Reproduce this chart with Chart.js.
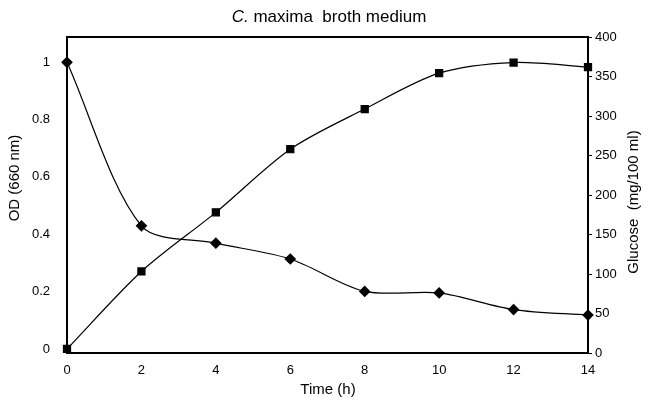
<!DOCTYPE html>
<html>
<head>
<meta charset="utf-8">
<script src="https://cdn.jsdelivr.net/npm/chart.js@4.4.1/dist/chart.umd.min.js"></script>
<style>
  html, body { margin: 0; padding: 0; background: #fff; }
</style>
</head>
<body>
<canvas id="myChart" width="651" height="401"></canvas>
<script>
const times = [0, 2, 4, 6, 8, 10, 12, 14];
const od = [0.0, 0.27, 0.476, 0.696, 0.836, 0.961, 0.998, 0.982];
const glucose = [368, 161, 139, 119, 78, 76, 55, 48];

const timeTicks = [0, 2, 4, 6, 8, 10, 12, 14];
const odTicks = [0, 0.2, 0.4, 0.6, 0.8, 1];
const glucoseTicks = [0, 50, 100, 150, 200, 250, 300, 350, 400];

const FONT = "'Liberation Sans', Arial, sans-serif";

// box, title (italic genus) and axis titles
const decor = {
  id: 'decor',
  afterDraw(chart) {
    const ctx = chart.ctx;
    const a = chart.chartArea;
    ctx.save();
    ctx.strokeStyle = '#000';
    ctx.lineWidth = 2;
    ctx.strokeRect(a.left, a.top, a.right - a.left, a.bottom - a.top);

    ctx.fillStyle = '#000';
    ctx.textBaseline = 'middle';

    // title
    const part1 = 'C.';
    const part2 = ' maxima  broth medium';
    ctx.font = 'italic 17px ' + FONT;
    const w1 = ctx.measureText(part1).width;
    ctx.font = '17px ' + FONT;
    const w2 = ctx.measureText(part2).width;
    let x = 329 - (w1 + w2) / 2;
    ctx.textAlign = 'left';
    ctx.font = 'italic 17px ' + FONT;
    ctx.fillText(part1, x, 17);
    ctx.font = '17px ' + FONT;
    ctx.fillText(part2, x + w1, 17);

    // axis titles
    ctx.font = '15px ' + FONT;
    ctx.textAlign = 'center';
    ctx.fillText('Time (h)', 328, 390);

    ctx.save();
    ctx.translate(15, 178);
    ctx.rotate(-Math.PI / 2);
    ctx.fillText('OD (660 nm)', 0, 0);
    ctx.restore();

    ctx.save();
    ctx.translate(634, 202);
    ctx.rotate(-Math.PI / 2);
    ctx.fillText('Glucose  (mg/100 ml)', 0, 0);
    ctx.restore();

    ctx.restore();
  }
};

const data = {
  datasets: [{
    label: 'OD',
    data: times.map((t, i) => ({ x: t, y: od[i] })),
    yAxisID: 'yOD',
    borderColor: '#000',
    backgroundColor: '#000',
    borderWidth: 1.2,
    pointStyle: 'rect',
    pointRadius: 5,
    tension: 0.3,
    clip: false,
  }, {
    label: 'Glucose',
    data: times.map((t, i) => ({ x: t, y: glucose[i] })),
    yAxisID: 'yGlu',
    borderColor: '#000',
    backgroundColor: '#000',
    borderWidth: 1.2,
    pointStyle: 'rectRot',
    pointRadius: 5,
    tension: 0.3,
    clip: false,
  }]
};

const config = {
  type: 'line',
  data: data,
  options: {
    responsive: false,
    animation: false,
    layout: { padding: { top: 37, left: 0, right: 0, bottom: 0 } },
    plugins: {
      legend: { display: false },
      title: { display: false },
      tooltip: { enabled: false },
    },
    scales: {
      x: {
        type: 'linear',
        min: 0,
        max: 14,
        afterBuildTicks: (s) => { s.ticks = timeTicks.map(v => ({ value: v })); },
        afterFit: (s) => { s.height = 48; },
        grid: { display: false },
        border: { display: false },
        ticks: { color: '#000', padding: 2, maxRotation: 0, font: { family: FONT, size: 13 } },
      },
      yOD: {
        position: 'left',
        min: -0.014,
        max: 1.087,
        afterBuildTicks: (s) => { s.ticks = odTicks.map(v => ({ value: v })); },
        afterFit: (s) => { s.width = 67; },
        grid: { display: false },
        border: { display: false },
        ticks: { color: '#000', padding: 9, font: { family: FONT, size: 13 }, callback: (v) => String(v) },
      },
      yGlu: {
        position: 'right',
        min: 0,
        max: 400,
        afterBuildTicks: (s) => { s.ticks = glucoseTicks.map(v => ({ value: v })); },
        afterFit: (s) => { s.width = 63; },
        grid: { display: true, drawOnChartArea: false, drawTicks: true, tickLength: 4, color: '#000' },
        border: { display: false },
        ticks: { color: '#000', padding: 3, font: { family: FONT, size: 13 } },
      },
    },
  },
  plugins: [decor],
};

const myChart = new Chart(document.getElementById('myChart'), config);
</script>
</body>
</html>
